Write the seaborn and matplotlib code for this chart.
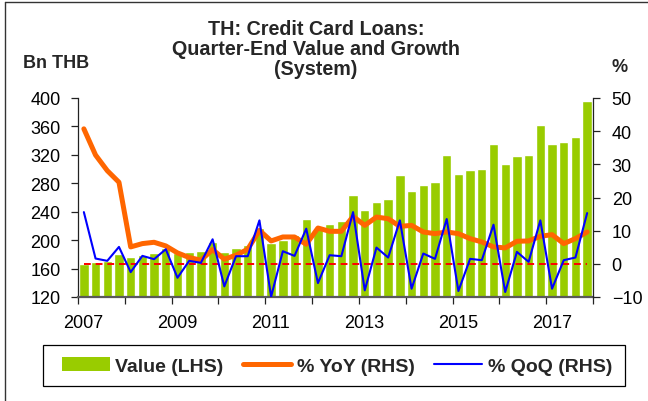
import numpy as np
import pandas as pd
import seaborn as sns
import matplotlib
matplotlib.use("Agg")
import matplotlib.pyplot as plt
import matplotlib.transforms as mtransforms
from matplotlib.patches import Patch, Rectangle
from matplotlib.lines import Line2D

# ---------------- data ----------------
years = [2007, 2008, 2009, 2010, 2011, 2012, 2013, 2014, 2015, 2016, 2017]
quarters = [1, 2, 3, 4]

value_bn_thb = [
    166.7, 169.1, 170.0, 180.3,
    175.6, 179.4, 182.2, 189.5,
    181.7, 183.6, 184.5, 197.4,
    183.6, 188.3, 192.5, 217.3,
    196.2, 200.9, 207.0, 230.0,
    216.0, 222.9, 227.6, 263.2,
    242.1, 253.8, 258.0, 291.8,
    269.8, 278.2, 281.5, 319.4,
    293.7, 298.4, 299.8, 335.4,
    307.3, 318.5, 319.4, 361.6,
    334.9, 338.2, 344.7, 396.3,
]
yoy_pct = [
    40.7, 32.8, 28.1, 24.6,
    5.1, 6.1, 6.5, 5.4,
    3.3, 1.9, 1.1, 4.3,
    1.4, 2.6, 4.4, 10.1,
    6.9, 8.1, 8.1, 5.9,
    10.8, 9.8, 9.8, 14.3,
    11.6, 14.1, 13.6, 11.3,
    11.6, 9.6, 9.1, 9.6,
    9.1, 7.6, 6.6, 5.1,
    4.8, 6.8, 6.9, 8.3,
    8.8, 6.1, 7.6, 9.6,
]
qoq_pct = [
    15.6, 1.6, 0.9, 5.1,
    -2.5, 2.4, 1.4, 4.4,
    -4.2, 0.9, 0.3, 7.4,
    -6.8, 2.3, 2.3, 13.1,
    -9.9, 3.8, 2.4, 10.6,
    -5.8, 2.6, 2.3, 15.6,
    -8.0, 4.9, 1.9, 13.1,
    -7.5, 3.1, 1.5, 13.5,
    -8.2, 1.5, 1.1, 11.8,
    -8.5, 3.6, 0.6, 13.1,
    -7.5, 1.1, 1.9, 15.3,
]
left_ticks = [120, 160, 200, 240, 280, 320, 360, 400]
right_ticks = [-10, 0, 10, 20, 30, 40, 50]
year_ticks = list(range(2007, 2019))
year_labels = ["2007", "", "2009", "", "2011", "", "2013", "", "2015", "", "2017", ""]

title = "TH: Credit Card Loans:\nQuarter-End Value and Growth\n(System)"
series_names = ["Value (LHS)", "% YoY (RHS)", "% QoQ (RHS)"]

# decimal-year position of each quarter (mid-quarter)
xpos = [y + (q - 0.5) / 4 for y in years for q in quarters]
df = pd.DataFrame({"x": xpos, "value": value_bn_thb, "yoy": yoy_pct, "qoq": qoq_pct})

GREEN = "#99CC00"
ORANGE = "#FF6600"
BLUE = "#0000FF"
RED = "#FF0000"

sns.set_theme(style="white")
plt.rcParams["font.family"] = ["Liberation Sans", "DejaVu Sans"]

fig = plt.figure(figsize=(6.48, 4.02), dpi=100)
W, H = 648, 402
ax = fig.add_axes([78 / W, 1 - 298 / H, (593 - 78) / W, (298 - 99) / H])

sns.barplot(data=df, x="x", y="value", native_scale=True, width=0.8,
            color=GREEN, saturation=1, errorbar=None, ax=ax, zorder=1)
ax.set_ylim(120, 400)
ax.set_xlim(2007, 2018)
ax.set_yticks(left_ticks)
ax.set_xticks(year_ticks)
ax.set_xticklabels(year_labels)
ax.set_xlabel("")
ax.set_ylabel("")

ax2 = ax.twinx()
ax2.hlines(0, xpos[0], xpos[-1], colors=RED, linestyles=(0, (3.5, 2.5)), lw=1.4, zorder=2)
sns.lineplot(data=df, x="x", y="yoy", color=ORANGE, lw=3.6, ax=ax2, zorder=3,
             solid_joinstyle="round")
sns.lineplot(data=df, x="x", y="qoq", color=BLUE, lw=1.5, ax=ax2, zorder=4)
ax2.set_ylim(-10, 50)
ax2.set_yticks(right_ticks)
ax2.set_xlim(2007, 2018)
ax2.set_ylabel("")
ax2.set_xlabel("")

for a in (ax, ax2):
    a.spines["top"].set_visible(False)
    a.grid(False)
ax2.spines["left"].set_visible(False)
ax2.spines["bottom"].set_visible(False)
ax.spines["right"].set_visible(False)
ax.spines["left"].set_color("#222222")
ax.spines["left"].set_linewidth(0.9)
ax2.spines["right"].set_color("#222222")
ax2.spines["right"].set_linewidth(0.9)
ax.spines["bottom"].set_color("#5a5a5a")
ax.spines["bottom"].set_linewidth(1.6)

tick_kw = dict(direction="out", length=5, width=0.9, color="#222222",
               labelsize=13, labelcolor="black")
ax.tick_params(axis="y", left=True, pad=7.5, **tick_kw)
ax.tick_params(axis="x", bottom=True, pad=7, **tick_kw)
ax2.tick_params(axis="y", right=True, pad=8.5, **tick_kw)

offset = mtransforms.ScaledTranslation(5.5 / 100, 0, fig.dpi_scale_trans)
for lab in ax.get_xticklabels():
    lab.set_transform(lab.get_transform() + offset)

# texts
fig.text(316 / W, 1 - 49.5 / H, title, ha="center", va="center",
         fontsize=14.2, fontweight="bold", linespacing=1.08, multialignment="center")
fig.text(23 / W, 1 - 63.5 / H, "Bn THB", ha="left", va="center",
         fontsize=13, fontweight="bold")
fig.text(620 / W, 1 - 68 / H, "%", ha="center", va="center",
         fontsize=13, fontweight="bold")

# legend (frame drawn separately to match the box exactly)
fig.add_artist(Rectangle((43 / W, 1 - 387 / H), 582 / W, 41 / H,
                         transform=fig.transFigure, facecolor="white",
                         edgecolor="black", lw=0.9, zorder=5))
handles = [
    Patch(facecolor=GREEN, edgecolor="none"),
    Line2D([], [], color=ORANGE, lw=3.6),
    Line2D([], [], color=BLUE, lw=1.5),
]
leg = fig.legend(handles, series_names, loc="center",
                 bbox_to_anchor=(337 / W, 1 - 367 / H),
                 ncol=3, frameon=False,
                 prop={"weight": "bold", "size": 14},
                 handlelength=2.47, handleheight=0.7, handletextpad=0.26,
                 columnspacing=1.03, borderpad=0.0, borderaxespad=0)
leg.set_zorder(6)

# outer frame (top and left)
fig.add_artist(Line2D([4.5 / W, 4.5 / W], [0, 1 - 3 / H], color="#333333", lw=1,
                      transform=fig.transFigure))
fig.add_artist(Line2D([4.5 / W, 1], [1 - 3 / H, 1 - 3 / H], color="#333333", lw=1,
                      transform=fig.transFigure))

fig.savefig("out.png", dpi=100)
